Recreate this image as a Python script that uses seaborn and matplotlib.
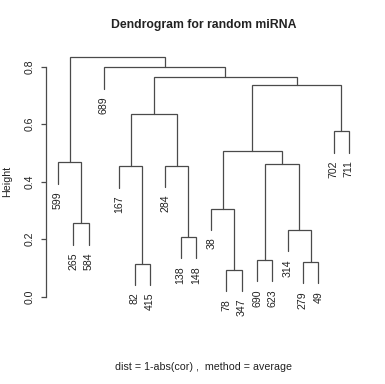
"""Dendrogram for random miRNA (hclust style plot)"""
import matplotlib
matplotlib.use("Agg")
import matplotlib.pyplot as plt
import seaborn as sns

# leaf labels in the order they are drawn, left to right
leaf_labels = ["599", "265", "584", "689", "167", "82", "415", "284", "138", "148",
               "38", "78", "347", "690", "623", "314", "279", "49", "702", "711"]

# merges like R's hclust: negative = leaf number (1-based), positive = earlier merge
merge_left = [-12, -6, -17, -14, -9, -16, -2, -11, -5, -8,
              4, -1, 8, -19, 9, 13, 15, -4, 12]
merge_right = [-13, -7, -18, -15, -10, 3, -3, 1, 2, 5,
               6, 7, 11, -20, 10, 14, 16, 17, 18]
merge_height = [0.093, 0.115, 0.120, 0.127, 0.207, 0.232, 0.255, 0.306, 0.453, 0.456,
                0.460, 0.467, 0.508, 0.575, 0.637, 0.736, 0.764, 0.798, 0.834]

y_ticks = [0.0, 0.2, 0.4, 0.6, 0.8]

line_col = "#4a4a4a"
text_col = "#222222"

sns.set_style("white")
plt.rcParams["font.family"] = ["Liberation Sans", "DejaVu Sans"]

fig = plt.figure(figsize=(3.85, 3.84), dpi=100)
ax = fig.add_axes([0.1205, 0.1797, 0.816, 0.698])

hang = 0.1 * (max(merge_height) - min(merge_height))
n_leaves = len(leaf_labels)

node_x = {}
node_y = {}


def get_node(i):
    # x centre and top height of a leaf or a merge
    if i < 0:
        return float(-i), None
    return node_x[i], node_y[i]


for k, (a, b, h) in enumerate(zip(merge_left, merge_right, merge_height), start=1):
    xa, ya = get_node(a)
    xb, yb = get_node(b)
    if ya is None:
        ya = h - hang
        ax.annotate(leaf_labels[-a - 1], (xa, ya), xytext=(0, -5.5),
                    textcoords="offset points", rotation=90, ha="center", va="top",
                    fontsize=7.6, color=text_col)
    if yb is None:
        yb = h - hang
        ax.annotate(leaf_labels[-b - 1], (xb, yb), xytext=(0, -5.5),
                    textcoords="offset points", rotation=90, ha="center", va="top",
                    fontsize=7.6, color=text_col)
    ax.plot([xa, xa, xb, xb], [ya, h, h, yb], color=line_col, lw=0.9,
            solid_joinstyle="miter")
    node_x[k] = (xa + xb) / 2.0
    node_y[k] = h

ax.set_xlim(1 - 0.04 * (n_leaves - 1), n_leaves + 0.04 * (n_leaves - 1))
ax.set_ylim(-0.064, 0.869)

for side in ["top", "right", "bottom"]:
    ax.spines[side].set_visible(False)
ax.spines["left"].set_bounds(0, 0.8)
ax.spines["left"].set_color(line_col)
ax.spines["left"].set_linewidth(0.9)

ax.set_xticks([])
ax.set_yticks(y_ticks)
ax.set_yticklabels([f"{t:.1f}" for t in y_ticks])
ax.tick_params(axis="y", left=True, length=3.3, width=0.9, color=line_col,
               pad=5, labelsize=7.6, labelcolor=text_col)
plt.setp(ax.get_yticklabels(), rotation=90, va="center")

fig.text(0.5286, 1 - 24.7 / 384, "Dendrogram for random miRNA", ha="center",
         va="center", fontsize=8.8, fontweight="bold", color=text_col)
fig.text(7.5 / 385, 1 - 181 / 384, "Height", rotation=90, ha="center",
         va="center", fontsize=7.7, color=text_col)
fig.text(0.5286, 1 - 367 / 384, "dist = 1-abs(cor) ,  method = average",
         ha="center", va="center", fontsize=7.7, color=text_col)

fig.savefig("out.png", dpi=100)
